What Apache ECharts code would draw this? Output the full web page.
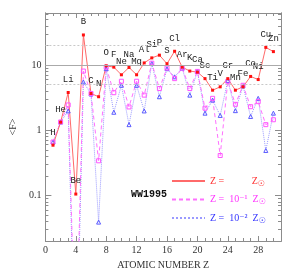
<!DOCTYPE html>
<html><head><meta charset="utf-8">
<script src="https://cdn.jsdelivr.net/npm/echarts@6/dist/echarts.min.js"></script>
<style>html,body{margin:0;padding:0;background:#fff}#c{width:299px;height:275px}</style>
</head><body><div id="c"></div>
<script>
const atomicNumbers = [1,2,3,4,5,6,7,8,9,10,11,12,13,14,15,16,17,18,19,20,21,22,23,24,25,26,27,28,29,30];
const elements = ['H','He','Li','Be','B','C','N','O','F','Ne','Na','Mg','Al','Si','P','S','Cl','Ar','K','Ca','Sc','Ti','V','Cr','Mn','Fe','Co','Ni','Cu','Zn'];
const solarVals = [0.59,1.33,3.8,0.105,29,3.67,3.27,9.75,9.3,7.1,9.2,7.1,10.8,12.9,14.2,10.5,16.3,9.3,8.1,7.8,6.2,4.12,4.64,6.2,4.12,4.64,6.7,6.0,18.7,16.1];
const tenthVals = [0.66,1.34,2.45,0.0003,8.1,3.67,0.34,9.3,3.77,5.65,2.28,5.65,3.46,10.7,4.37,9.0,6.2,9.0,4.37,8.0,2.18,3.09,0.41,5.65,2.5,4.9,2.3,2.75,1.22,1.45];
const hundredthVals = [0.66,1.34,1.98,0.0001,5.5,3.6,0.039,8.8,1.89,4.9,1.22,4.9,1.98,10.6,3.27,8.8,6.6,9.0,3.46,8.0,1.83,2.9,1.69,5.8,2.0,4.8,1.63,3.09,0.49,1.83];
const xMajorTicks = [0,4,8,12,16,20,24,28];
const xMinorTicks = [1,2,3,5,6,7,9,10,11,13,14,15,17,18,19,21,22,23,25,26,27,29,30];
const yMajorTicks = [0.1,1,10];
const yMinorTicks = [0.02,0.03,0.04,0.05,0.06,0.07,0.08,0.09,0.2,0.3,0.4,0.5,0.6,0.7,0.8,0.9,2,3,4,5,6,7,8,9,20,30,40,50,60];
const refLines = [10,20,5];
const seriesNames = ['Z = Z☉','Z = 10⁻¹ Z☉','Z = 10⁻² Z☉'];

const pairs = v => atomicNumbers.map((z,i)=>[z,v[i]]);
const axisCol = '#8c8c8c';
const serif = '"Liberation Serif","DejaVu Serif",serif';
const X0=0, X1=31, Y0=0.02, Y1=63;

function xAx(pos, ticks, len, labels, name){
  return {type:'value', min:X0, max:X1, position:pos, gridIndex:0,
    axisLine:{show:true, onZero:false, lineStyle:{color:axisCol,width:1}},
    axisTick:{show:true, inside:true, length:len, customValues:ticks, lineStyle:{color:axisCol}},
    axisLabel:{show:labels, customValues:ticks, margin:4, color:'#333', fontFamily:serif, fontSize:10},
    splitLine:{show:false},
    name:name||'', nameLocation:'middle', nameGap:19, nameTextStyle:{color:'#333', fontFamily:serif, fontSize:10}};
}
function yAx(pos, ticks, len, labels, name){
  return {type:'log', logBase:10, min:Y0, max:Y1, position:pos, gridIndex:0,
    axisLine:{show:true, onZero:false, lineStyle:{color:axisCol,width:1}},
    axisTick:{show:true, inside:true, length:len, customValues:ticks, lineStyle:{color:axisCol}},
    axisLabel:{show:labels, customValues:ticks, margin:4, color:'#333', fontFamily:serif, fontSize:10,
      formatter: v => String(+v.toPrecision(3))},
    splitLine:{show:false},
    name:name||'', nameLocation:'middle', nameGap:20, nameRotate:90, nameTextStyle:{color:'#333', fontFamily:serif, fontSize:10}};
}

const chart = echarts.init(document.getElementById('c'), null, {renderer:'canvas'});
const sub = c => ({color:c, fontFamily:'"DejaVu Sans"', fontSize:8, verticalAlign:'bottom', padding:[5,0,0,0]});
const rich = {
  r:{color:'#ff3030', fontFamily:serif, fontSize:10},
  p:{color:'#ff33ff', fontFamily:serif, fontSize:10},
  b:{color:'#3333ff', fontFamily:serif, fontSize:10},
  rs:sub('#ff3030'), ps:sub('#ff33ff'), bs:sub('#3333ff')
};
chart.setOption({
  animation:false,
  backgroundColor:'#fff',
  grid:{left:30, right:18, top:13, bottom:31, containLabel:false},
  xAxis:[xAx('bottom', xMajorTicks, 5, true, 'ATOMIC NUMBER Z'), xAx('bottom', xMinorTicks, 3, false), xAx('top', xMajorTicks, 5, false), xAx('top', xMinorTicks, 3, false)],
  yAxis:[yAx('left', yMajorTicks, 6, true, '<F>'), yAx('left', yMinorTicks, 3, false), yAx('right', yMajorTicks, 6, false), yAx('right', yMinorTicks, 3, false)],
  legend:{orient:'vertical', left:166, top:171, itemWidth:33, itemHeight:10, itemGap:7,
    data:seriesNames, selectedMode:false,
    itemStyle:{opacity:0},
    formatter: name => {
      const i = seriesNames.indexOf(name);
      const k = ['r','p','b'][i];
      const mid = ['        ','10⁻¹ ','10⁻² '][i];
      return '{'+k+'|Z =  '+mid+' Z}{'+k+'s|☉}';
    },
    textStyle:{rich:rich}
  },
  graphic:[{type:'text', left:131, top:189, style:{text:'WW1995', font:'bold 10px "Liberation Mono", monospace', fill:'#111'}}],
  series:[
    {name:seriesNames[2], type:'line', data:pairs(hundredthVals), xAxisIndex:0, yAxisIndex:0,
     symbol:'triangle', symbolSize:4, clip:true,
     lineStyle:{color:'#9a9aff', width:1, type:'dotted'}, itemStyle:{color:'rgba(255,255,255,0)', borderColor:'#5a5aff', borderWidth:1}},
    {name:seriesNames[1], type:'line', data:pairs(tenthVals), xAxisIndex:0, yAxisIndex:0,
     symbol:'rect', symbolSize:4, clip:true,
     lineStyle:{color:'#ff70ff', width:1, type:[4,3]}, itemStyle:{color:'rgba(255,255,255,0)', borderColor:'#ff55ff', borderWidth:1}},
    {name:seriesNames[0], type:'line', data:pairs(solarVals), xAxisIndex:0, yAxisIndex:0,
     symbol:'rect', symbolSize:3, clip:true,
     lineStyle:{color:'#ff6a6a', width:1}, itemStyle:{color:'#ff1010', borderWidth:0},
     label:{show:true, position:'top', distance:7, formatter:p=>elements[p.dataIndex], color:'#222', fontFamily:'"Liberation Mono","DejaVu Sans Mono",monospace', fontSize:9},
     markLine:{silent:true, symbol:'none', label:{show:false}, animation:false,
       data:refLines.map((v,i)=>({yAxis:v, lineStyle:{color:i===0?'#aaaaaa':'#c8c8c8', width:1, type:i===0?'solid':[2,2]}}))}
    }
  ]
});
</script></body></html>
